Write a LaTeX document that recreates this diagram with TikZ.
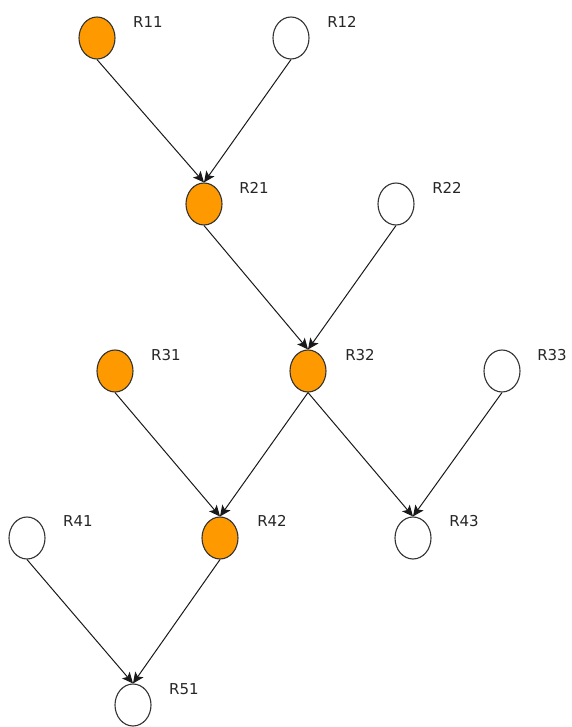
\documentclass[tikz,border=0pt]{standalone}
\usepackage{fontspec}
\setmainfont{DejaVu Sans}
\usetikzlibrary{shapes.geometric,arrows.meta}
\definecolor{nodeorange}{RGB}{255,153,0}
\tikzset{
  rnode/.style={ellipse,draw=black!80,line width=1.1pt,minimum width=36pt,minimum height=42pt,inner sep=0pt,fill=white},
  hot/.style={rnode,fill=nodeorange},
  rlabel/.style={font=\fontsize{15}{15}\selectfont,inner sep=0pt,text=black!85},
  edge/.style={draw=black!90,line width=1pt,-{Stealth[length=11pt,width=10pt,inset=2.5pt]}}
}
\begin{document}
\begin{tikzpicture}[x=1pt,y=-1pt]
\useasboundingbox (0,0) rectangle (571,727);
\node[hot]   (R11) at (97,38) {};
\node[rnode] (R12) at (291,38) {};
\node[hot]   (R21) at (204,204) {};
\node[rnode] (R22) at (396,204) {};
\node[hot]   (R31) at (115,371) {};
\node[hot]   (R32) at (308,371) {};
\node[rnode] (R33) at (502,371) {};
\node[rnode] (R41) at (27,538) {};
\node[hot]   (R42) at (220,538) {};
\node[rnode] (R43) at (413,538) {};
\node[rnode] (R51) at (133,705) {};
\node[rlabel] (L11) at (148,22) {R11};
\node[rlabel] (L12) at (342,22) {R12};
\node[rlabel] (L21) at (254,188) {R21};
\node[rlabel] (L22) at (447,188) {R22};
\node[rlabel] (L31) at (166,355) {R31};
\node[rlabel] (L32) at (360,355) {R32};
\node[rlabel] (L33) at (552,355) {R33};
\node[rlabel] (L41) at (78,521) {R41};
\node[rlabel] (L42) at (272,521) {R42};
\node[rlabel] (L43) at (464,521) {R43};
\node[rlabel] (L51) at (184,689) {R51};
\draw[edge] (R11.south) -- (R21.north);
\draw[edge] (R12.south) -- (R21.north);
\draw[edge] (R21.south) -- (R32.north);
\draw[edge] (R22.south) -- (R32.north);
\draw[edge] (R31.south) -- (R42.north);
\draw[edge] (R32.south) -- (R42.north);
\draw[edge] (R32.south) -- (R43.north);
\draw[edge] (R33.south) -- (R43.north);
\draw[edge] (R41.south) -- (R51.north);
\draw[edge] (R42.south) -- (R51.north);
\end{tikzpicture}
\end{document}
